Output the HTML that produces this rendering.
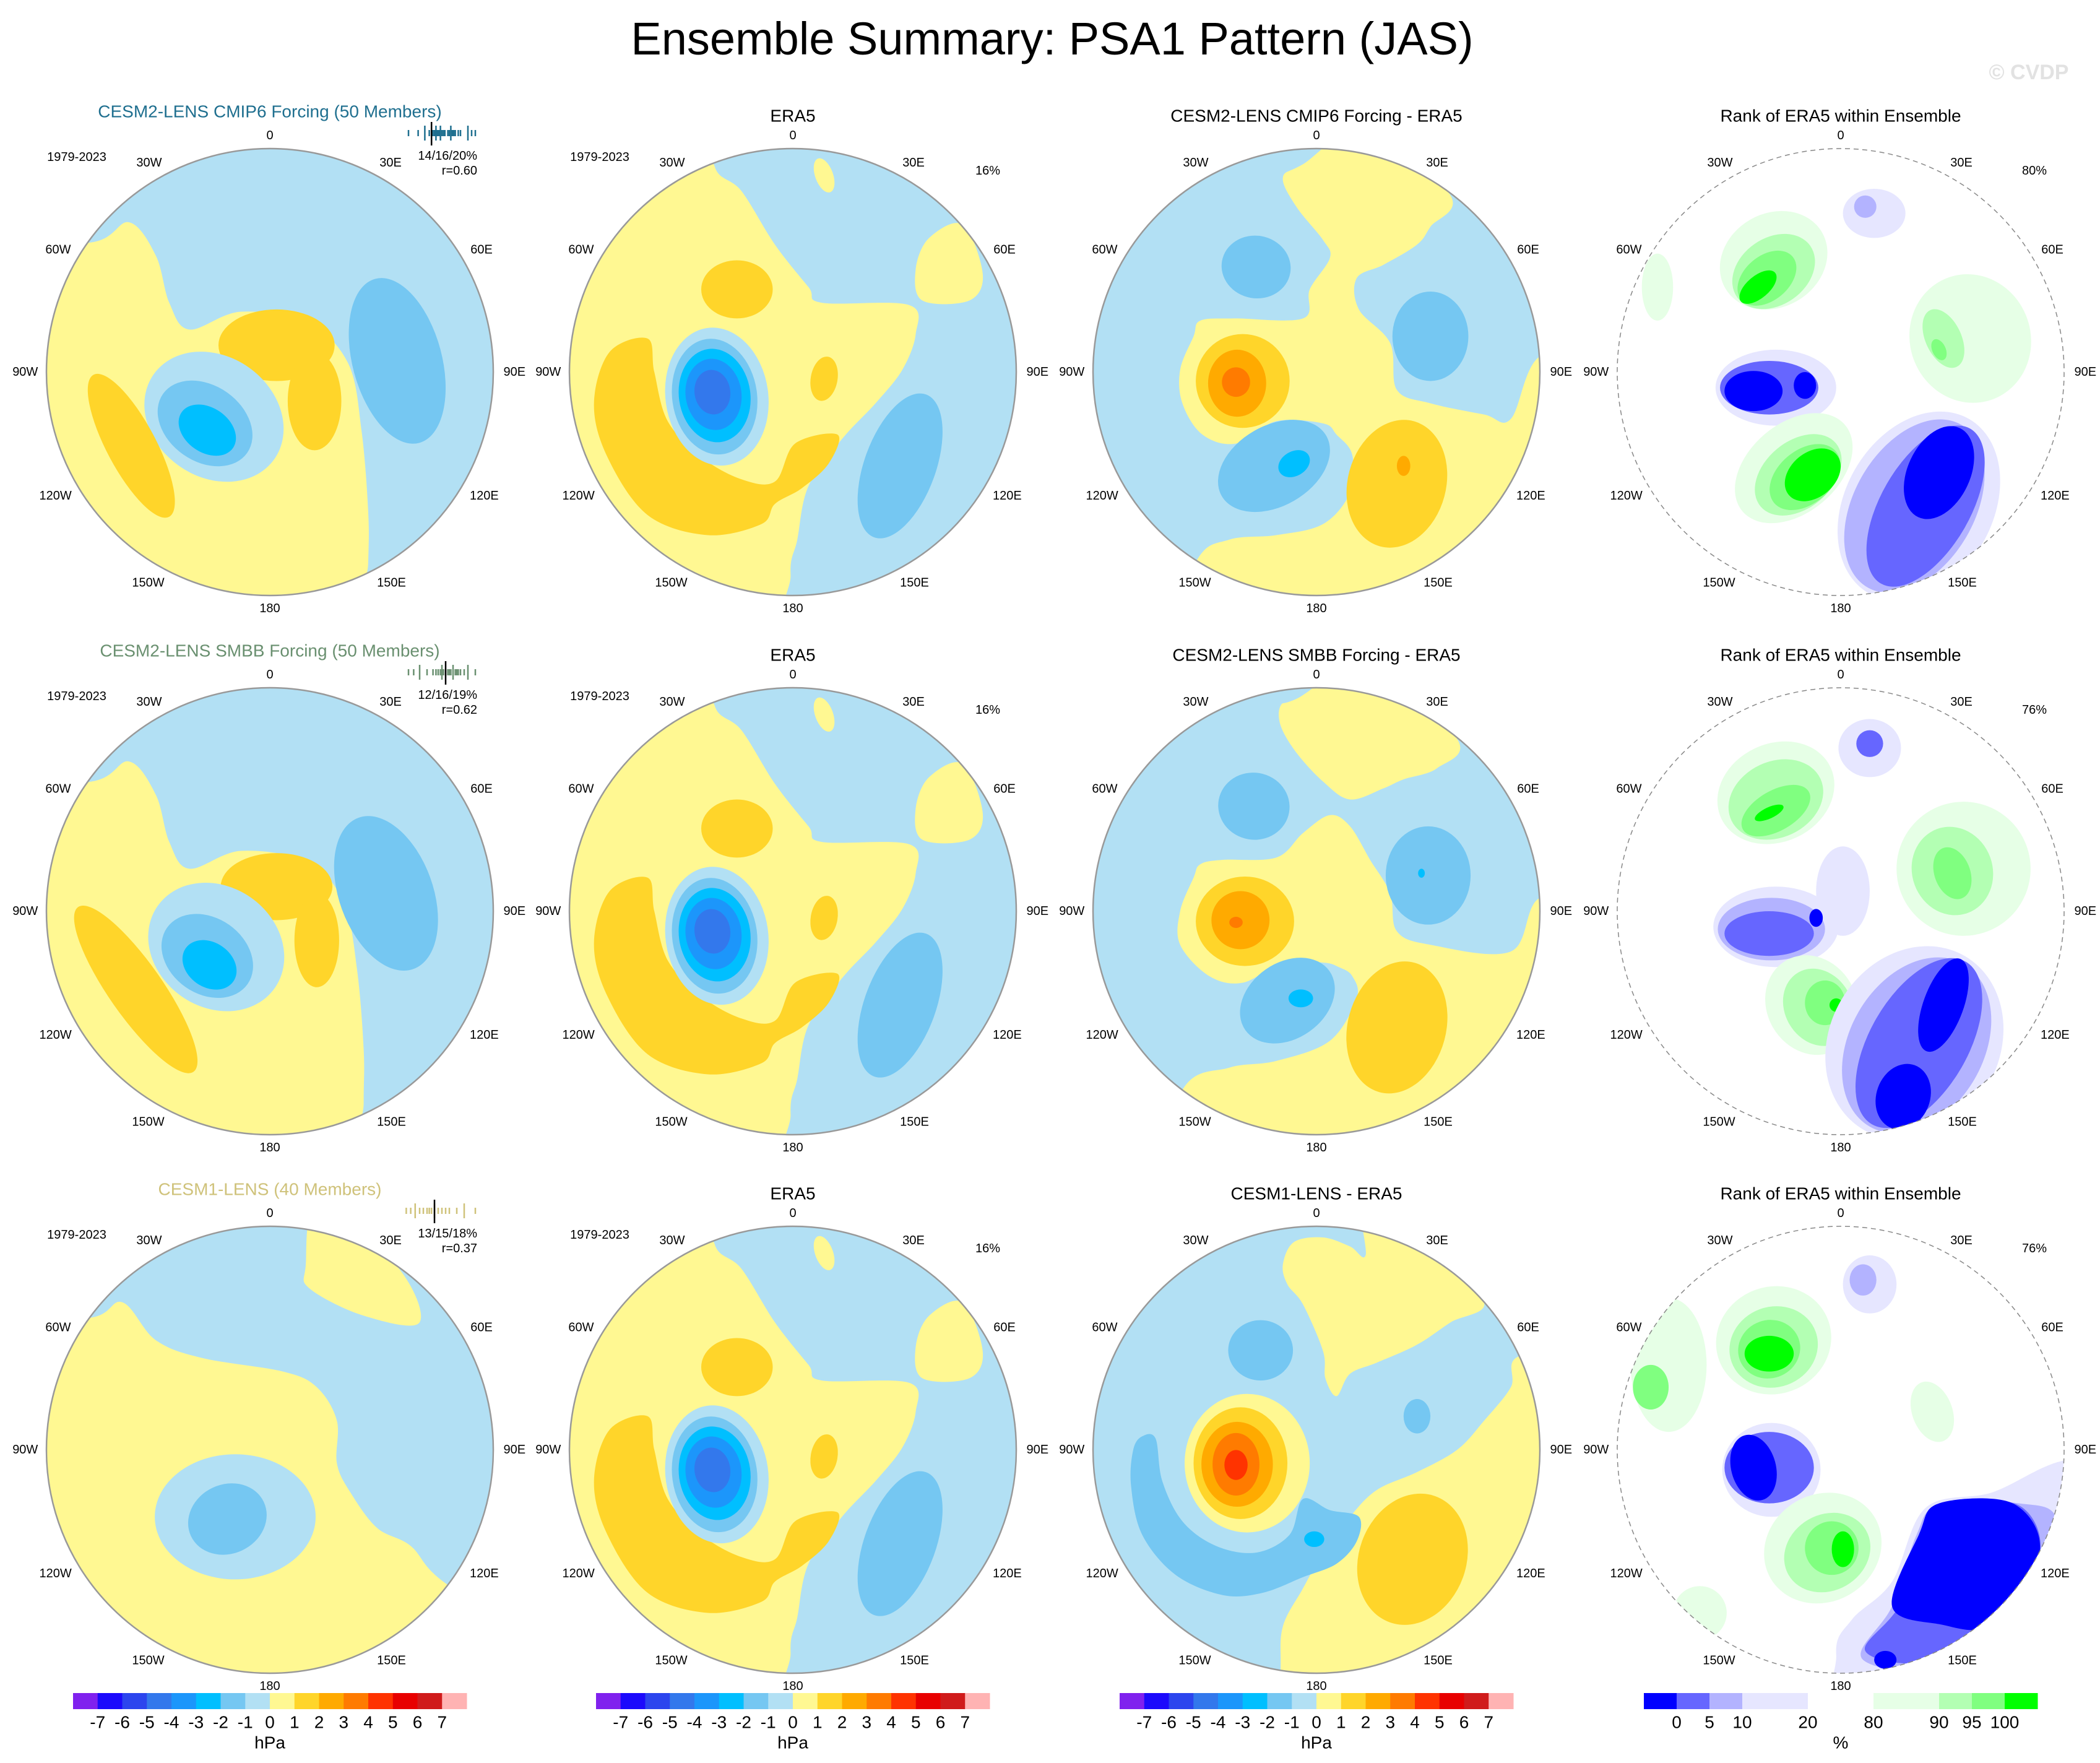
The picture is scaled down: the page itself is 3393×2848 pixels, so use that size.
<!DOCTYPE html>
<html><head><meta charset="utf-8">
<style>
html,body{margin:0;padding:0;background:#fff;}
svg{display:block;font-family:"Liberation Sans",Arial,sans-serif;}
</style></head>
<body>
<svg id="fig" xmlns="http://www.w3.org/2000/svg" width="3393" height="2848" viewBox="0 0 3393 2848">
<rect width="3393" height="2848" fill="#fff"/>
<text x="1700" y="88" font-size="74" text-anchor="middle" fill="#000">Ensemble Summary: PSA1 Pattern (JAS)</text>
<text x="3278" y="128" font-size="34" font-weight="bold" text-anchor="middle" fill="#e2e2e2">© CVDP</text>
<g id="panels"></g>
</svg>
<script>
// ---- colour scales ----
const hpaColors = ["#8021ee","#1c0afc","#2c45ee","#3378ec","#1c96fb","#00bfff","#75c7f2","#b2e0f4","#fff892","#ffd52a","#ffaa00","#ff7b00","#ff3300","#e80000","#d01b1b","#ffb3b3"];
const hpaTickLabels = ["-7","-6","-5","-4","-3","-2","-1","0","1","2","3","4","5","6","7"];
const rankColors = ["#0000ff","#6666ff","#b3b3ff","#e6e6ff","#e6e6ff","#ffffff","#ffffff","#e6ffe6","#e6ffe6","#b3ffb3","#80ff80","#00ff00"];
const rankTickLabels = ["0","5","10","20","80","90","95","100"];
const rankTickBoundaries = [1,2,3,5,7,9,10,11];
const lonLabels = ["0","30E","60E","90E","120E","150E","180","150W","120W","90W","60W","30W"];
const lonAngles = [0,30,60,90,120,150,180,210,240,270,300,330];
const rowTitles = ["CESM2-LENS CMIP6 Forcing (50 Members)","CESM2-LENS SMBB Forcing (50 Members)","CESM1-LENS (40 Members)"];
const rowTitleColors = ["#1f6f8f","#6a9070","#cfc27a"];
const diffTitles = ["CESM2-LENS CMIP6 Forcing - ERA5","CESM2-LENS SMBB Forcing - ERA5","CESM1-LENS - ERA5"];
const rowStats = ["14/16/20%","12/16/19%","13/15/18%"];
const rowCorr = ["r=0.60","r=0.62","r=0.37"];
const rankPct = ["80%","76%","76%"];
const era5Pct = "16%";
const histMembers = [
 [0.05,0.18,0.27,0.33,0.36,0.38,0.40,0.41,0.42,0.43,0.44,0.45,0.46,0.47,0.48,0.50,0.52,0.54,0.58,0.60,0.62,0.64,0.66,0.68,0.72,0.75,0.85,0.9,0.95],
 [0.05,0.12,0.2,0.3,0.38,0.42,0.45,0.48,0.5,0.52,0.55,0.58,0.6,0.62,0.65,0.68,0.7,0.72,0.75,0.8,0.85,0.95],
 [0.02,0.08,0.14,0.2,0.25,0.3,0.33,0.36,0.4,0.45,0.5,0.55,0.6,0.7,0.8,0.95]];
const histObs = [0.36,0.55,0.4];

// contour shapes: ['e',u,v,rx,ry,rot,level] ellipse, ['p',level,[[u,v]...]] smoothed polygon (u,v in units of radius)
const c1r1 = {bg:0, shapes:[
 ['p',-1,[[-1.3,-0.58],[-0.8,-0.58],[-0.63,-0.67],[-0.51,-0.52],[-0.45,-0.31],[-0.36,-0.19],[-0.13,-0.27],[0.17,-0.22],[0.35,-0.04],[0.41,0.26],[0.44,0.62],[0.44,0.86],[0.42,1.3],[1.3,1.3],[1.3,-1.3],[-1.3,-1.3]]],
 ['e',0.57,-0.05,0.2,0.38,-15,-2],
 ['e',0.03,-0.12,0.26,0.16,0,1],['e',0.2,0.13,0.12,0.22,0,1],
 ['e',-0.25,0.2,0.33,0.27,35,-1],['e',-0.29,0.23,0.23,0.17,35,-2],['e',-0.28,0.26,0.14,0.1,35,-3],
 ['e',-0.62,0.33,0.11,0.36,-28,1]]};
const c1r2 = {bg:0, shapes:[
 ['p',-1,[[-1.3,-0.58],[-0.8,-0.58],[-0.63,-0.67],[-0.51,-0.52],[-0.45,-0.31],[-0.36,-0.19],[-0.13,-0.27],[0.17,-0.22],[0.33,-0.04],[0.39,0.26],[0.42,0.62],[0.42,0.86],[0.42,1.3],[1.3,1.3],[1.3,-1.3],[-1.3,-1.3]]],
 ['e',0.52,-0.08,0.21,0.36,-20,-2],
 ['e',0.03,-0.11,0.25,0.15,0,1],['e',0.21,0.13,0.1,0.21,0,1],
 ['e',-0.24,0.16,0.32,0.27,35,-1],['e',-0.28,0.2,0.22,0.17,35,-2],['e',-0.27,0.24,0.13,0.1,35,-3],
 ['e',-0.6,0.35,0.12,0.45,-35,1]]};
const c1r3 = {bg:0, shapes:[
 ['p',-1,[[-1.3,-0.59],[-0.81,-0.59],[-0.66,-0.66],[-0.51,-0.49],[-0.30,-0.41],[0.06,-0.35],[0.21,-0.28],[0.30,-0.13],[0.30,0.06],[0.36,0.19],[0.48,0.35],[0.63,0.43],[0.79,0.60],[1.3,0.9],[1.3,-1.3],[-1.3,-1.3]]],
 ['p',0,[[0.16,-0.82],[0.22,-1.1],[0.57,-0.82],[0.67,-0.57],[0.42,-0.60],[0.18,-0.72]]],
 ['e',-0.155,0.30,0.36,0.28,0,-1],['e',-0.19,0.31,0.18,0.155,-25,-2]]};
const era5 = {bg:0, shapes:[
 ['p',-1,[[-0.35,-1.2],[-0.35,-0.92],[-0.23,-0.81],[-0.08,-0.57],[0.07,-0.38],[0.13,-0.31],[0.52,-0.30],[0.55,-0.17],[0.49,-0.01],[0.37,0.14],[0.22,0.30],[0.07,0.51],[0.02,0.75],[-0.01,0.91],[0.04,1.3],[1.3,1.3],[1.3,-1.3]]],
 ['p',0,[[0.61,-0.60],[0.76,-0.66],[0.85,-0.44],[0.79,-0.32],[0.58,-0.32],[0.55,-0.46]]],
 ['e',0.14,-0.88,0.04,0.08,-20,0],
 ['e',0.48,0.42,0.16,0.34,20,-2],
 ['e',-0.25,-0.37,0.16,0.13,0,1],
 ['p',1,[[-0.82,-0.09],[-0.65,-0.15],[-0.62,0],[-0.56,0.22],[-0.41,0.38],[-0.23,0.48],[-0.08,0.49],[0.01,0.32],[0.20,0.28],[0.16,0.41],[0.04,0.52],[-0.08,0.59],[-0.14,0.68],[-0.38,0.73],[-0.65,0.64],[-0.83,0.38],[-0.89,0.14]]],
 ['e',-0.34,0.11,0.23,0.31,-8,-1],['e',-0.35,0.11,0.19,0.26,-8,-2],['e',-0.35,0.105,0.16,0.21,-8,-3],['e',-0.355,0.1,0.125,0.16,-8,-4],['e',-0.36,0.09,0.08,0.1,-8,-5],
 ['e',0.14,0.03,0.06,0.1,10,1]]};
const c3r1 = {bg:-1, shapes:[
 ['p',0,[[-0.15,-0.87],[-0.06,-0.93],[0.24,-1.1],[0.60,-0.79],[0.51,-0.65],[0.45,-0.57],[0.30,-0.48],[0.18,-0.42],[0.19,-0.28],[0.33,-0.13],[0.36,0.08],[0.51,0.14],[0.75,0.19],[0.87,0.21],[1.0,-0.07],[1.3,-0.07],[1.3,1.3],[-0.7,1.3],[-0.54,0.85],[-0.39,0.75],[-0.18,0.73],[0.03,0.68],[0.15,0.54],[0.16,0.37],[0.09,0.28],[0.03,0.23],[-0.18,0.22],[-0.36,0.32],[-0.51,0.28],[-0.60,0.14],[-0.61,-0.01],[-0.55,-0.16],[-0.52,-0.23],[-0.37,-0.24],[-0.06,-0.24],[-0.03,-0.37],[0.06,-0.51],[0.03,-0.59],[-0.09,-0.74]]],
 ['e',-0.27,-0.47,0.155,0.14,10,-2],['e',0.51,-0.16,0.17,0.2,0,-2],
 ['e',-0.19,0.42,0.27,0.18,-30,-2],['e',-0.10,0.41,0.075,0.055,-30,-3],
 ['e',-0.33,0.04,0.21,0.21,0,1],['e',-0.355,0.05,0.13,0.15,0,2],['e',-0.36,0.045,0.063,0.066,0,3],
 ['e',0.36,0.50,0.22,0.29,15,1],['e',0.39,0.42,0.03,0.045,0,2]]};
const c3r2 = {bg:-1, shapes:[
 ['p',0,[[-0.16,-0.92],[-0.09,-0.95],[0.24,-1.1],[0.63,-0.77],[0.54,-0.64],[0.39,-0.59],[0.30,-0.55],[0.15,-0.50],[0.03,-0.58],[-0.09,-0.71],[-0.16,-0.83]]],
 ['p',0,[[0.06,-0.43],[0.15,-0.38],[0.24,-0.23],[0.33,-0.08],[0.36,0.09],[0.51,0.15],[0.87,0.18],[1.0,-0.06],[1.3,-0.06],[1.3,1.3],[-0.75,1.3],[-0.60,0.80],[-0.39,0.70],[-0.18,0.67],[0.06,0.58],[0.18,0.39],[0.16,0.29],[0.10,0.25],[0.03,0.23],[-0.15,0.23],[-0.33,0.32],[-0.48,0.29],[-0.61,0.15],[-0.61,0],[-0.55,-0.15],[-0.52,-0.21],[-0.42,-0.23],[-0.18,-0.24],[-0.06,-0.35]]],
 ['e',-0.28,-0.47,0.16,0.15,10,-2],['e',0.50,-0.16,0.19,0.22,0,-2],['e',0.47,-0.17,0.015,0.02,0,-3],
 ['e',-0.13,0.40,0.23,0.17,-35,-2],['e',-0.07,0.39,0.055,0.04,0,-3],
 ['e',-0.32,0.045,0.22,0.2,0,1],['e',-0.34,0.04,0.13,0.13,0,2],['e',-0.36,0.05,0.03,0.025,0,3],
 ['e',0.36,0.52,0.22,0.3,15,1]]};
const c3r3 = {bg:-1, shapes:[
 ['p',0,[[-0.15,-0.83],[-0.10,-0.93],[0.03,-0.95],[0.15,-0.91],[0.22,-0.87],[0.22,-1.1],[0.51,-0.89],[0.75,-0.66],[0.60,-0.57],[0.45,-0.47],[0.27,-0.39],[0.15,-0.34],[0.09,-0.24],[0.04,-0.32],[0.03,-0.44],[-0.06,-0.65],[-0.13,-0.74]]],
 ['p',0,[[1.3,-0.45],[0.91,-0.42],[0.87,-0.28],[0.75,-0.13],[0.63,0],[0.45,0.10],[0.27,0.18],[0.15,0.30],[0.03,0.46],[-0.06,0.62],[-0.15,0.79],[-0.16,0.98],[-0.16,1.3],[1.3,1.3]]],
 ['p',-2,[[-0.78,-0.06],[-0.72,-0.05],[-0.69,0.14],[-0.60,0.32],[-0.45,0.43],[-0.27,0.46],[-0.12,0.38],[-0.06,0.22],[0.06,0.27],[0.19,0.30],[0.18,0.41],[0.09,0.51],[-0.06,0.57],[-0.24,0.64],[-0.42,0.65],[-0.63,0.56],[-0.78,0.38],[-0.83,0.16],[-0.82,0]]],
 ['e',-0.01,0.40,0.045,0.035,0,-3],
 ['e',-0.25,-0.445,0.145,0.135,0,-2],['e',0.45,-0.15,0.06,0.077,0,-2],
 ['e',-0.31,0.06,0.28,0.31,0,0],['e',-0.34,0.06,0.21,0.25,0,1],['e',-0.355,0.065,0.16,0.19,0,2],['e',-0.36,0.065,0.105,0.14,0,3],['e',-0.36,0.068,0.052,0.067,0,4],
 ['e',0.43,0.49,0.24,0.3,20,1]]};
// rank panels: level = index into rankColors
const c4r1 = {bg:5, shapes:[
 ['e',-0.30,-0.50,0.25,0.21,-30,8],['e',-0.30,-0.45,0.2,0.15,-35,9],['e',-0.33,-0.42,0.15,0.1,-40,10],['e',-0.37,-0.38,0.1,0.05,-40,11],
 ['e',0.58,-0.15,0.27,0.29,-20,8],['e',0.46,-0.15,0.08,0.14,-25,9],['e',0.44,-0.1,0.03,0.05,-25,10],
 ['e',-0.82,-0.38,0.07,0.15,0,8],
 ['e',0.15,-0.71,0.14,0.11,0,4],['e',0.11,-0.74,0.05,0.05,0,2],
 ['e',-0.29,0.07,0.27,0.17,0,4],['e',-0.32,0.07,0.22,0.12,0,1],['e',-0.39,0.085,0.13,0.09,0,0],['e',-0.16,0.06,0.05,0.06,0,0],
 ['e',-0.21,0.43,0.3,0.2,-40,8],['e',-0.19,0.46,0.22,0.15,-40,9],['e',-0.16,0.47,0.18,0.12,-40,10],['e',-0.125,0.46,0.14,0.1,-40,11],
 ['e',0.35,0.60,0.33,0.45,30,4],['e',0.33,0.60,0.27,0.42,30,2],['e',0.38,0.60,0.2,0.4,30,1],['e',0.44,0.45,0.14,0.22,25,0]]};
const c4r2 = {bg:5, shapes:[
 ['e',-0.29,-0.53,0.27,0.22,-25,8],['e',-0.29,-0.50,0.22,0.17,-25,9],['e',-0.29,-0.45,0.17,0.09,-30,10],['e',-0.32,-0.44,0.07,0.025,-25,11],
 ['e',0.55,-0.19,0.3,0.3,-20,8],['e',0.50,-0.18,0.18,0.2,-20,9],['e',0.50,-0.17,0.08,0.12,-20,10],
 ['e',0.13,-0.73,0.14,0.13,0,4],['e',0.13,-0.75,0.06,0.06,0,1],
 ['e',0.01,-0.09,0.12,0.2,0,4],
 ['e',-0.29,0.07,0.28,0.18,0,4],['e',-0.31,0.08,0.24,0.14,0,2],['e',-0.32,0.10,0.2,0.1,0,1],['e',-0.11,0.03,0.03,0.04,0,0],
 ['e',-0.13,0.42,0.2,0.23,-30,8],['e',-0.10,0.43,0.15,0.18,-30,9],['e',-0.07,0.41,0.09,0.1,0,10],['e',-0.02,0.42,0.03,0.03,0,11],
 ['e',0.33,0.59,0.38,0.45,30,4],['e',0.34,0.6,0.3,0.42,30,2],['e',0.35,0.59,0.22,0.42,30,1],['e',0.46,0.42,0.09,0.22,20,0],['e',0.28,0.83,0.12,0.15,20,0]]};
const c4r3 = {bg:5, shapes:[
 ['e',-0.30,-0.49,0.26,0.24,-20,8],['e',-0.30,-0.46,0.2,0.18,-20,9],['e',-0.32,-0.45,0.14,0.13,-20,10],['e',-0.32,-0.43,0.11,0.08,0,11],
 ['e',-0.77,-0.38,0.17,0.3,0,8],['e',-0.85,-0.28,0.08,0.1,0,10],
 ['e',0.41,-0.17,0.09,0.14,-20,8],
 ['e',0.13,-0.74,0.12,0.13,0,4],['e',0.10,-0.76,0.06,0.07,0,2],
 ['e',-0.31,0.09,0.22,0.21,0,4],['e',-0.32,0.08,0.2,0.16,0,1],['e',-0.39,0.08,0.1,0.15,-15,0],
 ['e',-0.08,0.44,0.27,0.24,-30,8],['e',-0.06,0.46,0.2,0.17,-30,9],['e',-0.04,0.44,0.12,0.12,0,10],['e',0.01,0.445,0.05,0.08,0,11],
 ['e',-0.63,0.73,0.12,0.12,0,7],
 ['p',4,[[-0.02,0.92],[0.05,0.76],[0.23,0.59],[0.38,0.26],[0.68,0.19],[0.99,0.05],[1.3,0.05],[1.3,1.3],[0.08,1.3]]],
 ['p',2,[[0.10,0.94],[0.23,0.70],[0.34,0.38],[0.44,0.25],[0.80,0.24],[0.97,0.32],[0.92,0.70],[0.53,0.98]]],
 ['p',1,[[0.11,0.90],[0.26,0.70],[0.38,0.38],[0.47,0.24],[0.80,0.25],[0.89,0.48],[0.68,0.78],[0.38,0.95]]],
 ['p',0,[[0.23,0.70],[0.35,0.38],[0.44,0.24],[0.77,0.24],[0.89,0.46],[0.68,0.78],[0.44,0.78]]],
 ['e',0.2,0.94,0.05,0.04,0,0]]};
const panelGrid = [[c1r1,era5,c3r1,c4r1],[c1r2,era5,c3r2,c4r2],[c1r3,era5,c3r3,c4r3]];

const NS='http://www.w3.org/2000/svg';
const colX=[436,1281,2127,2974], rowY=[601,1472,2342], R=361;
const root=document.getElementById('panels');
function mk(tag,attrs,parent){const e=document.createElementNS(NS,tag);for(const k in attrs)e.setAttribute(k,attrs[k]);(parent||root).appendChild(e);return e;}
function txt(s,x,y,size,fill,anchor,parent){const t=mk('text',{x:x,y:y,'font-size':size,fill:fill||'#000','text-anchor':anchor||'middle','dominant-baseline':'central'},parent);t.textContent=s;return t;}
function smoothPath(pts){
  const n=pts.length; let d='M'+pts[0][0].toFixed(1)+','+pts[0][1].toFixed(1);
  for(let i=0;i<n;i++){
    const p0=pts[(i-1+n)%n],p1=pts[i],p2=pts[(i+1)%n],p3=pts[(i+2)%n];
    const c1=[p1[0]+(p2[0]-p0[0])/6,p1[1]+(p2[1]-p0[1])/6];
    const c2=[p2[0]-(p3[0]-p1[0])/6,p2[1]-(p3[1]-p1[1])/6];
    d+=' C'+c1[0].toFixed(1)+','+c1[1].toFixed(1)+' '+c2[0].toFixed(1)+','+c2[1].toFixed(1)+' '+p2[0].toFixed(1)+','+p2[1].toFixed(1);
  }
  return d+'Z';
}

for(let r=0;r<3;r++){for(let c=0;c<4;c++){
  const cx=colX[c], cy=rowY[r], P=panelGrid[r][c], isRank=(c===3);
  const g=mk('g',{});
  
  
  const cid='clip'+r+c;
  const cp=mk('clipPath',{id:cid},g); mk('circle',{cx:cx,cy:cy,r:R},cp);
  const field=mk('g',{'clip-path':'url(#'+cid+')'},g);
  
  
  const col=l=>isRank?rankColors[l]:hpaColors[l+8];
  mk('rect',{x:cx-R,y:cy-R,width:2*R,height:2*R,fill:col(P.bg)},field);
  P.shapes.forEach(s=>{
    let el;
    if(s[0]==='e'){el=mk('ellipse',{cx:cx+s[1]*R,cy:cy+s[2]*R,rx:s[3]*R,ry:s[4]*R,fill:col(s[6]),transform:'rotate('+s[5]+' '+(cx+s[1]*R)+' '+(cy+s[2]*R)+')'},field);}
    else{el=mk('path',{d:smoothPath(s[2].map(p=>[cx+p[0]*R,cy+p[1]*R])),fill:col(s[1])},field);}
    
    
  });
  const ring=mk('circle',{cx:cx,cy:cy,r:R,fill:'none',stroke:isRank?'#888':'#999','stroke-width':isRank?1.5:2.5,'stroke-dasharray':isRank?'8 6':'none'},g);
  
  
  lonLabels.forEach((lab,i)=>{
    const a=lonAngles[i]*Math.PI/180, s=Math.sin(a), co=Math.cos(a), tw=lab.length*11.5;
    const d=378+Math.abs(s)*tw/2+Math.abs(co)*4;
    const t=txt(lab,cx+s*d,cy-co*d,20,'#000','middle',g);
    
    
  });
  let title, tcol='#000', ty=cy-414;
  if(c===0){title=rowTitles[r];tcol=rowTitleColors[r];ty=cy-421;}
  else if(c===1) title='ERA5';
  else if(c===2) title=diffTitles[r];
  else title='Rank of ERA5 within Ensemble';
  const tt=txt(title,cx,ty,28,tcol,'middle',g);
  
  
  if(c<2){const y=txt('1979-2023',cx-312,cy-347,20,'#000','middle',g);
    
    }
  if(c===0){
    const s1=txt(rowStats[r],cx+335,cy-349,20,'#000','end',g);
    
    
    const s2=txt(rowCorr[r],cx+335,cy-325,20,'#000','end',g);
    
    
    const hx0=cx+218, hw=120, hy=cy-386;
    histMembers[r].forEach((v,i)=>{
      const tall=(i%6===2);
      const ln=mk('line',{x1:hx0+v*hw,x2:hx0+v*hw,y1:hy-(tall?12:5),y2:hy+(tall?12:5),stroke:rowTitleColors[r],'stroke-width':2.5},g);
      
      
    });
    const ob=mk('line',{x1:hx0+histObs[r]*hw,x2:hx0+histObs[r]*hw,y1:hy-18,y2:hy+20,stroke:'#000','stroke-width':2.5},g);
    
    
  }
  if(c===1){const p=txt(era5Pct,cx+315,cy-325,20,'#000','middle',g);
    
    }
  if(c===3){const p=txt(rankPct[r],cx+313,cy-325,20,'#000','middle',g);
    
    }
}}

for(let c=0;c<4;c++){
  const cx=colX[c], x0=cx-318, w=636, y0=2735, h=26;
  const g=mk('g',{});
  
  
  const cols=c===3?rankColors:hpaColors, n=cols.length, bw=w/n;
  cols.forEach((cl,i)=>{const b=mk('rect',{x:x0+i*bw,y:y0,width:bw+0.5,height:h,fill:cl},g);
    
    });
  if(c<3){
    hpaTickLabels.forEach((l,i)=>{const t=txt(l,x0+(i+1)*bw,2782,28,'#000','middle',g);
      
      });
    const u=txt('hPa',cx,2815,28,'#000','middle',g);
    
    
  } else {
    rankTickLabels.forEach((l,i)=>{const t=txt(l,x0+rankTickBoundaries[i]*bw,2782,28,'#000','middle',g);
      
      });
    const u=txt('%',cx,2815,28,'#000','middle',g);
    
    
  }
}
</script>
</body></html>
